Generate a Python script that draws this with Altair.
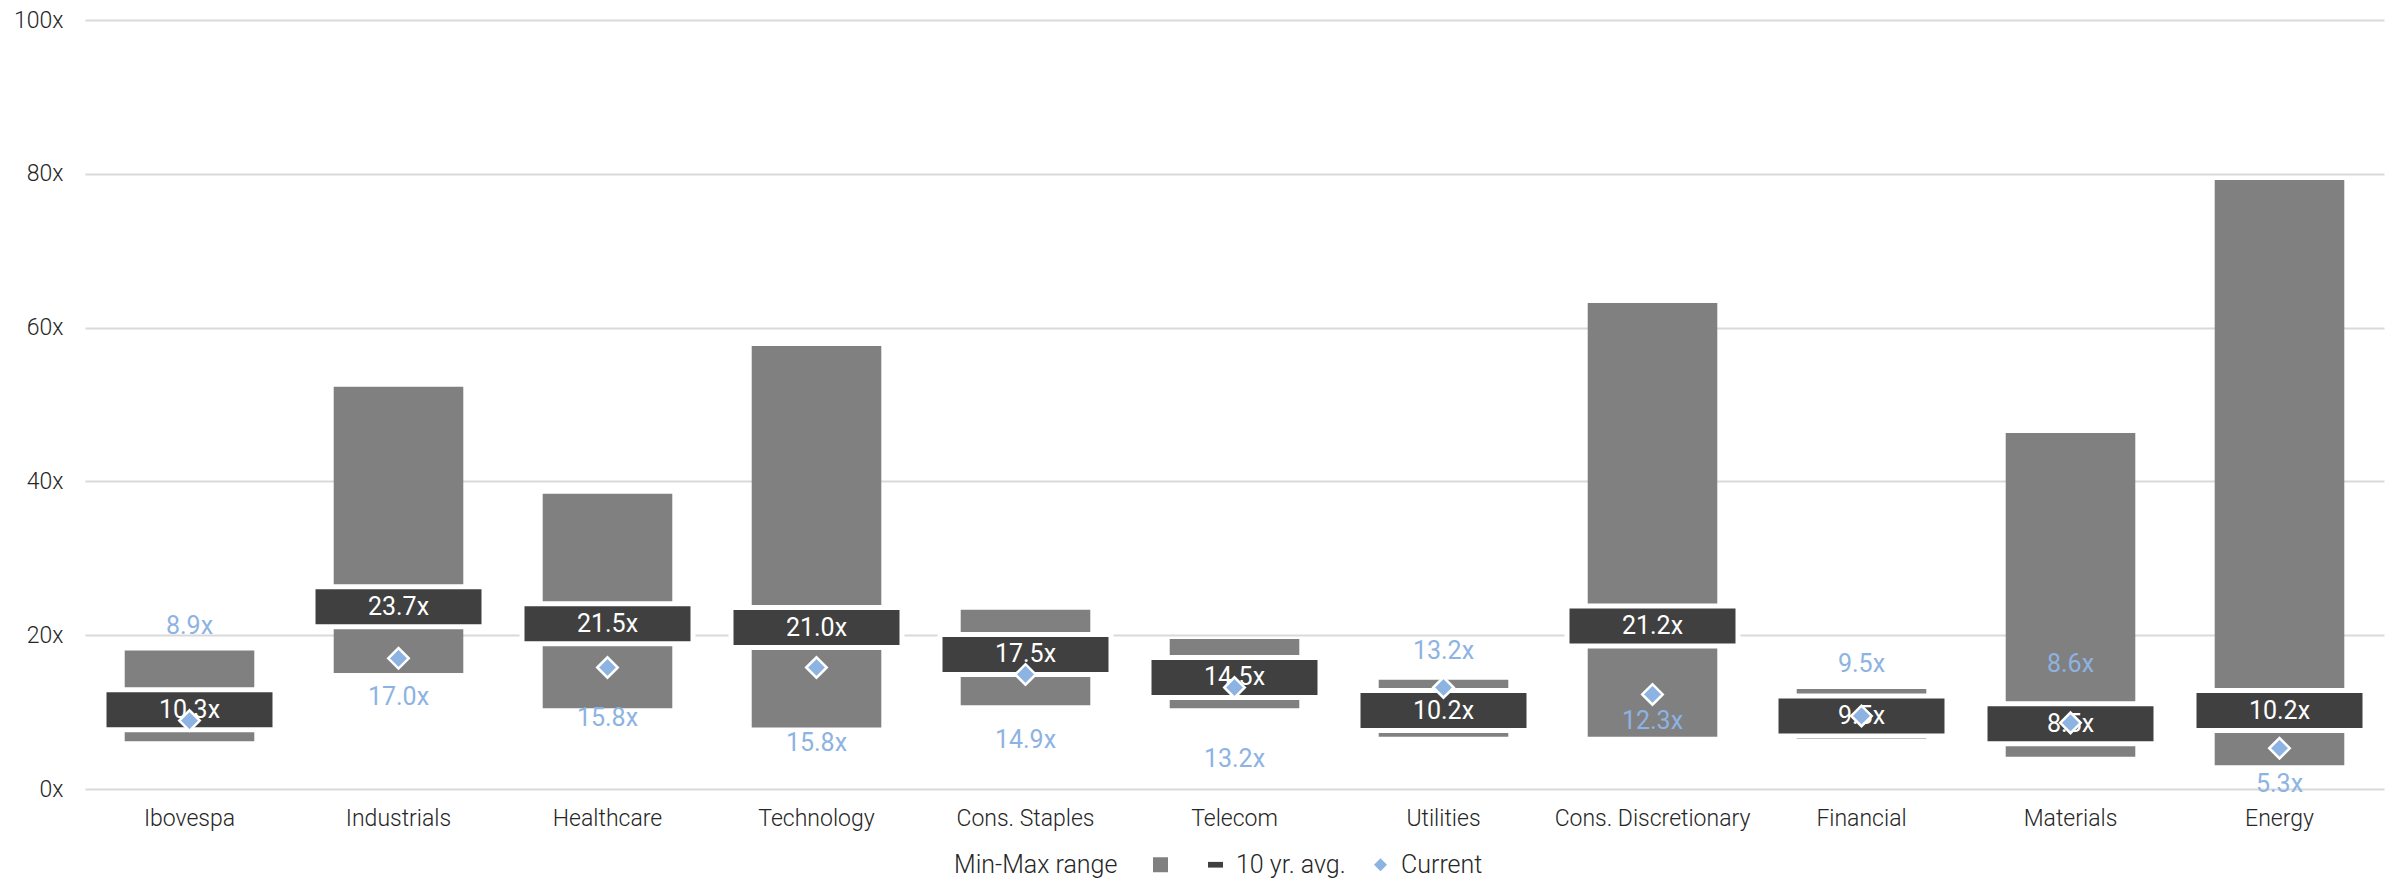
import altair as alt
import pandas as pd

categories = ["Ibovespa", "Industrials", "Healthcare", "Technology", "Cons. Staples",
              "Telecom", "Utilities", "Cons. Discretionary", "Financial", "Materials", "Energy"]
range_min = [6.2, 15.1, 10.5, 8.0, 10.9, 10.5, 6.8, 6.8, 6.5, 4.2, 3.1]
range_max = [18.0, 52.3, 38.4, 57.6, 23.3, 19.5, 14.2, 63.2, 13.0, 46.3, 79.2]
ten_yr_avg = [10.3, 23.7, 21.5, 21.0, 17.5, 14.5, 10.2, 21.2, 9.5, 8.5, 10.2]
current = [8.9, 17.0, 15.8, 15.8, 14.9, 13.2, 13.2, 12.3, 9.5, 8.6, 5.3]
# where each "Current" data label sits (in x-multiple units, as placed in the original)
current_label_at = [21.2, 11.9, 9.2, 6.0, 6.4, 3.9, 17.9, 8.8, 16.3, 16.3, 0.7]

legend_items = [" ", "10 yr. avg.", "Current"]
legend_colors = ["#808080", "#404040", "#8DB3E2"]
legend_shapes = ["M-1,-1H1V1H-1Z", "M-1,-0.38H1V0.38H-1Z", "M0,-0.87L0.87,0L0,0.87L-0.87,0Z"]

df = pd.DataFrame({
    "sector": categories,
    "lo": range_min,
    "hi": range_max,
    "avg": ten_yr_avg,
    "cur": current,
    "cur_at": current_label_at,
})
df["avg_label"] = [f"{v:.1f}x" for v in ten_yr_avg]
df["cur_label"] = [f"{v:.1f}x" for v in current]

FONT = "Roboto"
TXT = "#262626"

x = alt.X("sector:N", sort=categories,
          scale=alt.Scale(paddingInner=0, paddingOuter=0),
          axis=alt.Axis(title=None, labelAngle=0, domain=False, ticks=False,
                        labelFont=FONT, labelFontSize=23, labelFontWeight=300,
                        labelColor=TXT, labelPadding=18, grid=False, labelLimit=0))
yscale = alt.Scale(domain=[0, 100], nice=False, zero=True)

base = alt.Chart(df)

bars = base.mark_bar(color="#808080", width=alt.RelativeBandSize(0.62)).encode(
    x=x,
    y=alt.Y("lo:Q", scale=yscale,
            axis=alt.Axis(title=None, values=[0, 20, 40, 60, 80, 100],
                          labelExpr="datum.value + 'x'", domain=False, ticks=False,
                          gridColor="#d9d9d9", gridWidth=2,
                          labelFont=FONT, labelFontSize=23, labelFontWeight=300,
                          labelColor=TXT, labelPadding=22)),
    y2="hi:Q",
)

boxes = base.mark_tick(fill="#404040", stroke="white", strokeWidth=5,
                       thickness=40, size=171, opacity=1).encode(
    x=x, y=alt.Y("avg:Q", scale=yscale))

avg_text = base.mark_text(color="white", font=FONT, fontSize=25, baseline="middle").encode(
    x=x, y=alt.Y("avg:Q", scale=yscale), text="avg_label:N")

diamonds = base.mark_point(shape="diamond", filled=True, size=420, fill="#8DB3E2",
                           stroke="white", strokeWidth=2.5, opacity=1).encode(
    x=x, y=alt.Y("cur:Q", scale=yscale))

cur_text = base.mark_text(color="#8DB3E2", font=FONT, fontSize=25, baseline="middle").encode(
    x=x, y=alt.Y("cur_at:Q", scale=yscale), text="cur_label:N")

leg = alt.Legend(title="Min-Max range", orient="none", legendX=869, legendY=832,
                 direction="horizontal", titleOrient="left", titleFont=FONT,
                 titleFontSize=25, titleFontWeight=300, titleColor=TXT, titlePadding=30,
                 titleBaseline="middle",
                 labelFont=FONT, labelFontSize=25, labelFontWeight=300, labelColor=TXT,
                 symbolSize=225, symbolStrokeWidth=0, columnPadding=22, labelOffset=8)

legend_df = pd.DataFrame({"series": legend_items})
legend_layer = alt.Chart(legend_df).transform_filter("false").mark_point(
    filled=True, opacity=1).encode(
    color=alt.Color("series:N", scale=alt.Scale(domain=legend_items, range=legend_colors), legend=leg),
    shape=alt.Shape("series:N", scale=alt.Scale(domain=legend_items, range=legend_shapes), legend=leg),
)

chart = alt.layer(bars, boxes, avg_text, diamonds, cur_text, legend_layer).properties(
    width=2299, height=769,
    autosize=alt.AutoSizeParams(type="none"),
    padding={"left": 77, "top": 12, "right": 12, "bottom": 91},
).configure_view(stroke=None)

chart.save("out.html", embed_options={"renderer": "svg", "actions": False})
